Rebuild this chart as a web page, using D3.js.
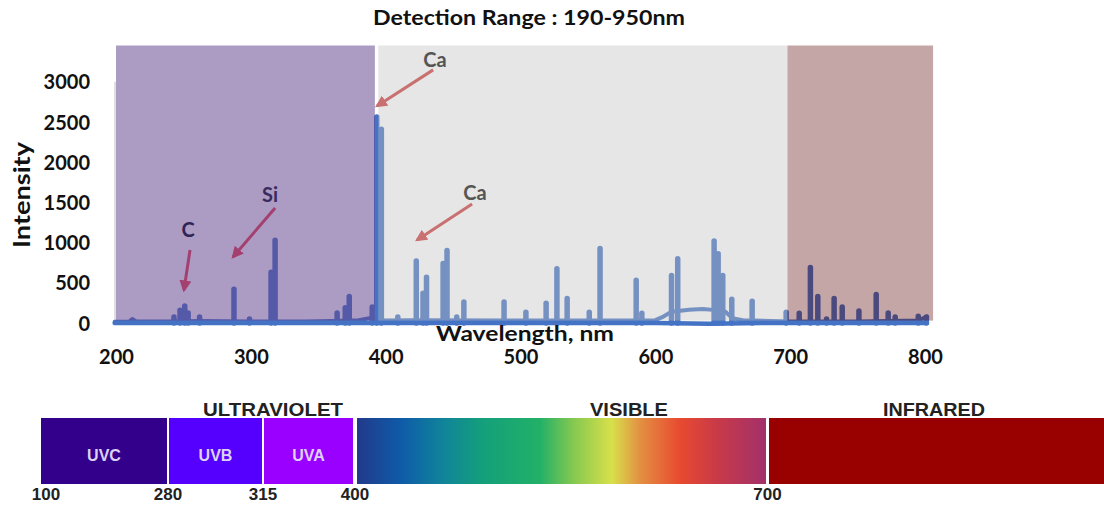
<!DOCTYPE html>
<html>
<head>
<meta charset="utf-8">
<script src="https://cdn.jsdelivr.net/npm/d3@7"></script>
<style>
  html, body { margin: 0; padding: 0; background: #fff; }
  svg { display: block; }
  .lato { font-family: Lato, "Open Sans", sans-serif; font-weight: 700; }
  .arial { font-family: "Liberation Sans", Arial, sans-serif; font-weight: 700; }
</style>
</head>
<body>
<svg id="chart" width="1104" height="505"></svg>
<script>
// ---- spectrum data (wavelength in nm, intensity in counts) ----
const yTicks = [0, 500, 1000, 1500, 2000, 2500, 3000];
const xTicks = [200, 300, 400, 500, 600, 700, 800];

// broad continuum under the emission lines
const contNm  = [199, 210, 212, 215, 240, 262, 300, 340, 360, 380, 388, 392, 400, 420, 500, 560, 600, 606, 612, 625, 635, 645, 652, 657, 665, 700, 750, 795, 801.5];
const contVal = [15, 20, 50, 20, 20, 25, 20, 20, 25, 35, 60, 40, 30, 35, 30, 30, 35, 80, 140, 165, 175, 160, 140, 60, 35, 20, 20, 30, 80];

// detector baseline
const baseNm  = [199, 400, 600, 640, 680, 801.5];
const baseVal = [0, 0, 0, -8, 0, 0];

// emission lines
const peakNm  = [243, 247.5, 251, 253.5, 262, 287.5, 299, 315, 318, 364, 370, 373, 390, 393.4, 396.8,
                 409, 422.7, 427.7, 430.3, 442.6, 445.5, 452.7, 458, 487.8, 504, 519, 527, 534.6, 551, 559,
                 585.8, 590, 612, 616.6, 643.6, 646.6, 650, 656.7, 671.8, 697,
                 706.7, 715, 720.5, 727, 732.6, 738.6, 751, 763.8, 772.7, 777.9, 795, 801];
const peakVal = [75, 160, 210, 125, 75, 420, 50, 630, 1030, 125, 190, 330, 200, 2560, 2410,
                 75, 770, 370, 570, 740, 900, 75, 260, 260, 135, 245, 675, 305, 135, 925,
                 530, 120, 590, 800, 1020, 860, 590, 295, 270, 135,
                 120, 690, 330, 50, 305, 200, 150, 355, 125, 75, 85, 75];

// spectral regions shaded behind the detector range
const uvBand  = [200, 392];
const visBand = [394.5, 698];
const irBand  = [698, 806];
const bandIntensity = [30, 3450];

// line identifications
const annLabels = ["Ca", "Ca", "Si", "C"];
const annLabelNm  = [436.6, 466.3, 314.2, 253.4];
const annLabelVal = [3271, 1617, 1592, 1157];
const annFromNm   = [435.2, 464.1, 318, 254.9];
const annFromVal  = [3147, 1480, 1430, 908];
const annToNm     = [393.6, 423.3, 286.8, 250.4];
const annToVal    = [2699, 1032, 821, 410];

// electromagnetic spectrum strip
const stripBreaks = [100, 280, 315, 400, 700, 1000];
const stripTickLabels = [100, 280, 315, 400, 700];
const uvNames = ["UVC", "UVB", "UVA"];
const uvFrom  = [100, 280, 315];
const uvTo    = [280, 315, 400];
const regionNames = ["ULTRAVIOLET", "VISIBLE", "INFRARED"];
const visStopOffsets = [0, 0.105, 0.21, 0.31, 0.447, 0.528, 0.623, 0.692, 0.79, 0.88, 1];
const visStopColors  = ["#223a8a", "#0e5aa8", "#10849a", "#14a07a", "#22b068", "#84c850", "#d8e04a", "#e39042", "#e84a30", "#c93a48", "#a2306a"];

// ---- drawing ----
const svg = d3.select("#chart");
const x = d3.scaleLinear().domain([200, 800]).range([116, 925]);
const y = d3.scaleLinear().domain([0, 3000]).range([323, 81.7]);
const lineBlue = "#4472c4";

// title
svg.append("text").attr("class", "lato")
  .attr("x", 529).attr("y", 25).attr("text-anchor", "middle")
  .attr("font-size", 21).attr("textLength", 312).attr("lengthAdjust", "spacingAndGlyphs")
  .attr("fill", "#111")
  .text("Detection Range : 190-950nm");

// faint left edge of plot area
svg.append("line").attr("x1", 115).attr("x2", 115)
  .attr("y1", y(0)).attr("y2", y(3000))
  .attr("stroke", "#d4d4d4").attr("stroke-width", 1.5);

const plot = svg.append("g");

const line = d3.line().x(d => x(d[0])).y(d => y(d[1])).curve(d3.curveLinear);
plot.append("path")
  .attr("d", line(baseNm.map((n, i) => [n, baseVal[i]])))
  .attr("fill", "none").attr("stroke", lineBlue).attr("stroke-width", 4.5)
  .attr("stroke-linejoin", "round").attr("stroke-linecap", "round");
plot.append("path")
  .attr("d", line(contNm.map((n, i) => [n, contVal[i]])))
  .attr("fill", "none").attr("stroke", lineBlue).attr("stroke-width", 4)
  .attr("stroke-linejoin", "round").attr("stroke-linecap", "round");

plot.selectAll("line.peak").data(peakNm.map((n, i) => ({ nm: n, v: peakVal[i] })))
  .join("line").attr("class", "peak")
  .attr("x1", d => x(d.nm)).attr("x2", d => x(d.nm))
  .attr("y1", y(0)).attr("y2", d => y(d.v))
  .attr("stroke", lineBlue).attr("stroke-width", 5.5).attr("stroke-linecap", "round");

// translucent region overlays
const bands = [
  { r: uvBand,  fill: "rgb(100,70,145)", op: 0.535 },
  { r: visBand, fill: "rgb(192,192,192)", op: 0.4 },
  { r: irBand,  fill: "rgb(89,0,0)",      op: 0.35 }
];
svg.append("g").selectAll("rect").data(bands).join("rect")
  .attr("x", d => x(d.r[0])).attr("width", d => x(d.r[1]) - x(d.r[0]))
  .attr("y", y(bandIntensity[1])).attr("height", y(bandIntensity[0]) - y(bandIntensity[1]))
  .attr("fill", d => d.fill).attr("fill-opacity", d => d.op);

// axes
const yAxis = d3.axisLeft(y).tickValues(yTicks).tickFormat(d3.format("d")).tickSize(0).tickPadding(0);
const gy = svg.append("g").attr("transform", "translate(90,0)").call(yAxis);
gy.select(".domain").remove();
gy.selectAll("text").attr("class", "lato").attr("font-size", 20).attr("fill", "#111").attr("dy", "0.36em");

const xAxis = d3.axisBottom(x).tickValues(xTicks).tickFormat(d3.format("d")).tickSize(0).tickPadding(0);
const gx = svg.append("g").attr("transform", "translate(0,350)").call(xAxis);
gx.select(".domain").remove();
gx.selectAll("text").attr("class", "lato").attr("font-size", 20).attr("fill", "#111").attr("dy", "0.71em");

svg.append("text").attr("class", "lato")
  .attr("x", 525).attr("y", 341).attr("text-anchor", "middle")
  .attr("font-size", 21).attr("textLength", 178).attr("lengthAdjust", "spacingAndGlyphs")
  .attr("fill", "#111").text("Wavelength, nm");

svg.append("text").attr("class", "lato")
  .attr("transform", "translate(30,195) rotate(-90)")
  .attr("text-anchor", "middle").attr("font-size", 22)
  .attr("textLength", 106).attr("lengthAdjust", "spacingAndGlyphs")
  .attr("fill", "#111")
  .text("Intensity");

// annotations
const defs = svg.append("defs");
const arrowColors = ["#c97070", "#c97070", "#a4406f", "#a4406f"];
const labelColors = ["#555555", "#555555", "#3a2a5e", "#2f2456"];
arrowColors.forEach((c, i) => {
  defs.append("marker").attr("id", "ah" + i)
    .attr("viewBox", "0 0 10 10").attr("refX", 8).attr("refY", 5)
    .attr("markerUnits", "userSpaceOnUse").attr("markerWidth", 12).attr("markerHeight", 12)
    .attr("orient", "auto")
    .append("path").attr("d", "M0,0 L10,5 L0,10 Z").attr("fill", c);
});
const ann = svg.append("g");
annLabels.forEach((t, i) => {
  ann.append("line")
    .attr("x1", x(annFromNm[i])).attr("y1", y(annFromVal[i]))
    .attr("x2", x(annToNm[i])).attr("y2", y(annToVal[i]))
    .attr("stroke", arrowColors[i]).attr("stroke-width", 3)
    .attr("marker-end", "url(#ah" + i + ")");
  ann.append("text").attr("class", "lato")
    .attr("x", x(annLabelNm[i])).attr("y", y(annLabelVal[i])).attr("dy", "0.36em")
    .attr("text-anchor", "middle").attr("font-size", 20).attr("fill", labelColors[i])
    .text(t);
});

// electromagnetic spectrum strip
const bx = d3.scaleLinear().domain(stripBreaks).range([40, 168, 263, 355, 767.5, 1106]);
const stripTop = 418, stripH = 66;
const grad = defs.append("linearGradient").attr("id", "visGrad").attr("x1", "0").attr("x2", "1").attr("y1", "0").attr("y2", "0");
visStopOffsets.forEach((o, i) => grad.append("stop").attr("offset", o).attr("stop-color", visStopColors[i]));

const strip = svg.append("g");
const uvColors = ["#33008c", "#5500ff", "#9900ff"];
uvNames.forEach((n, i) => {
  const x0 = bx(uvFrom[i]) + 1;
  const x1 = bx(uvTo[i]) - (i === 2 ? 2 : 1);
  strip.append("rect").attr("x", x0).attr("y", stripTop).attr("width", x1 - x0).attr("height", stripH).attr("fill", uvColors[i]);
  strip.append("text").attr("class", "arial")
    .attr("x", (x0 + x1) / 2).attr("y", stripTop + stripH / 2 + 4).attr("dy", "0.35em")
    .attr("text-anchor", "middle").attr("font-size", 16).attr("fill", "#ddd2f2").text(n);
});
strip.append("rect").attr("x", bx(400) + 2).attr("y", stripTop).attr("width", bx(700) - bx(400) - 3.5).attr("height", stripH).attr("fill", "url(#visGrad)");
strip.append("rect").attr("x", bx(700) + 1.5).attr("y", stripTop).attr("width", bx(1000) - bx(700)).attr("height", stripH).attr("fill", "#990000");

const regionCenters = [273, 629, 934];
const regionWidths = [140, 78, 102];
regionNames.forEach((n, i) => {
  strip.append("text").attr("class", "arial")
    .attr("x", regionCenters[i]).attr("y", 416)
    .attr("text-anchor", "middle").attr("font-size", 18)
    .attr("textLength", regionWidths[i]).attr("lengthAdjust", "spacingAndGlyphs")
    .attr("fill", "#222").text(n);
});
stripTickLabels.forEach(v => {
  strip.append("text").attr("class", "arial")
    .attr("x", bx(v) + (v === 100 ? 6 : 0)).attr("y", 500)
    .attr("text-anchor", "middle").attr("font-size", 17).attr("fill", "#222").text(v);
});
</script>
</body>
</html>
